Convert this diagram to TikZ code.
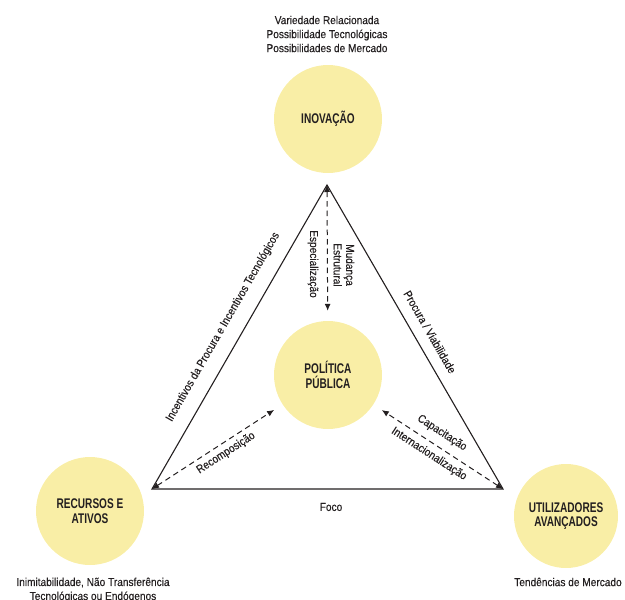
\documentclass[tikz,border=0pt]{standalone}
\usepackage{fontspec}
\setmainfont{Liberation Sans}[FakeStretch=0.88,FakeBold=0.25]
\newfontfamily\lblfont{Liberation Sans}[FakeStretch=0.72]
\usetikzlibrary{arrows.meta}
\definecolor{circfill}{RGB}{249,238,166}
\definecolor{ink}{RGB}{35,31,32}
\tikzset{
  bubble/.style={circle, fill=circfill, minimum size=108pt, inner sep=0pt,
    font=\lblfont\bfseries\fontsize{14}{14.5}\selectfont, text=ink, align=center},
  txt/.style={font=\fontsize{11.5}{14}\selectfont, text=ink, align=center, inner sep=0pt},
  side/.style={draw=ink, line width=1.1pt},
  dasharrow/.style={draw=ink, line width=1pt, dash pattern=on 5.5pt off 4pt,
    {Latex[length=7pt,width=6pt]}-{Latex[length=7pt,width=6pt]}, shorten >=10pt},
}
\begin{document}
\begin{tikzpicture}[x=1pt,y=-1pt]
\useasboundingbox (0,0) rectangle (625,600);
\node[bubble] (ino) at (328,119) {INOVAÇÃO};
\node[bubble] (pp) at (328,375) {POLÍTICA\\PÚBLICA};
\node[bubble] (rec) at (90,511) {RECURSOS E\\ATIVOS};
\node[bubble, minimum size=104pt] (uti) at (566,516) {UTILIZADORES\\AVANÇADOS};

\coordinate (vt) at (327,185);
\coordinate (vl) at (152,489);
\coordinate (vr) at (503,489);

\draw[side] (vl) -- (vt) -- (vr) -- cycle;

\draw[dasharrow] (vt) -- (pp);
\draw[dasharrow] (vl) -- (pp);
\draw[dasharrow] (vr) -- (pp);

\node[txt] (topt) at (327,34) {Variedade Relacionada\\Possibilidade Tecnológicas\\Possibilidades de Mercado};
\node[txt] (blt) at (93,590) {Inimitabilidade, Não Transferência\\Tecnológicas ou Endógenos};
\node[txt] (brt) at (568,582) {Tendências de Mercado};

\node[txt, rotate=-90, font=\fontsize{11.5}{12.5}\selectfont] (mud) at (344,265) {Mudança\\Estrutural};
\node[txt, rotate=-90] (esp) at (313,264) {Especialização};
\node[txt, rotate=60.07] (inc) at (223,327) {Incentivos da Procura e Incentivos Tecnológicos};
\node[txt, rotate=-60.07] (pro) at (430,332) {Procura / Viabilidade};
\node[txt] (foco) at (331,507) {Foco};
\node[txt, rotate=33] (recp) at (226,453) {Recomposição};
\node[txt, rotate=-33] (cap) at (442,433) {Capacitação};
\node[txt, rotate=-33] (int) at (429,454) {Internacionalização};
\end{tikzpicture}
\end{document}
